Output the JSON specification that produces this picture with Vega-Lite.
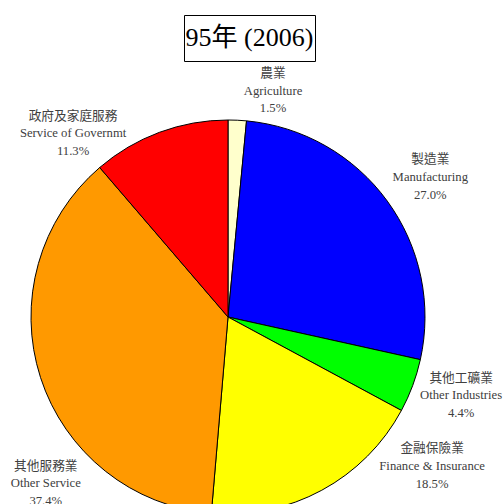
{
  "$schema": "https://vega.github.io/schema/vega-lite/v6.json",
  "padding": {"left": 0, "top": 14, "right": 0, "bottom": 0},
  "autosize": {"type": "pad"},
  "background": "white",
  "spacing": 0,
  "config": {"view": {"stroke": null}, "font": "Liberation Serif, 'Noto Sans CJK TC', serif"},
  "data": {
    "values": [
      {"order": 1, "cat": "Agriculture", "zh": "農業", "en": "Agriculture", "pct": 1.5},
      {"order": 2, "cat": "Manufacturing", "zh": "製造業", "en": "Manufacturing", "pct": 27.0},
      {"order": 3, "cat": "Other Industries", "zh": "其他工礦業", "en": "Other Industries", "pct": 4.4},
      {"order": 4, "cat": "Finance & Insurance", "zh": "金融保險業", "en": "Finance & Insurance", "pct": 18.5},
      {"order": 5, "cat": "Other Service", "zh": "其他服務業", "en": "Other Service", "pct": 37.4},
      {"order": 6, "cat": "Service of Governmt", "zh": "政府及家庭服務", "en": "Service of Governmt", "pct": 11.3}
    ]
  },
  "vconcat": [
    {
      "spacing": 0,
      "hconcat": [
        {
          "width": 183, "height": 46,
          "data": {"values": [{}]},
          "mark": {"type": "point", "opacity": 0},
          "encoding": {}
        },
        {
          "width": 131, "height": 46,
          "view": {"stroke": "black", "strokeWidth": 1},
          "data": {"values": [{}]},
          "mark": {"type": "text", "text": "95年 (2006)", "fontSize": 26, "color": "black", "baseline": "middle", "align": "center"},
          "encoding": {}
        }
      ]
    },
    {
      "width": 456,
      "height": 510,
      "transform": [
        {"stack": "pct", "groupby": [], "sort": [{"field": "order"}], "as": ["s0", "s1"]},
        {"calculate": "(datum.s0 + datum.s1) / 2", "as": "mid"},
        {"calculate": "datum.zh + '\\n' + datum.en + '\\n' + format(datum.pct, '.1f') + '%'", "as": "label"}
      ],
      "layer": [
        {
          "mark": {"type": "arc", "outerRadius": 197, "stroke": "black", "strokeWidth": 1},
          "encoding": {
            "theta": {"field": "s0", "type": "quantitative", "stack": null, "scale": {"domain": [0, 100.1]}},
            "theta2": {"field": "s1"},
            "color": {
              "field": "cat", "type": "nominal", "legend": null,
              "scale": {
                "domain": ["Agriculture", "Manufacturing", "Other Industries", "Finance & Insurance", "Other Service", "Service of Governmt"],
                "range": ["#FFFFCC", "#0000FF", "#00FF00", "#FFFF00", "#FF9900", "#FF0000"]
              }
            }
          }
        },
        {
          "transform": [{"filter": "datum.cat === 'Agriculture'"}],
          "mark": {"type": "text", "radius": 230, "thetaOffset": 0.150, "dy": -18, "fontSize": 12.7, "lineHeight": 17.5, "lineBreak": "\n", "color": "#404040", "align": "center", "baseline": "middle"},
          "encoding": {"theta": {"field": "mid", "type": "quantitative", "stack": null}, "text": {"field": "label"}}
        },
        {
          "transform": [{"filter": "datum.cat === 'Manufacturing'"}],
          "mark": {"type": "text", "radius": 246, "thetaOffset": 0.024, "dy": -18, "fontSize": 12.7, "lineHeight": 18, "lineBreak": "\n", "color": "#404040", "align": "center", "baseline": "middle"},
          "encoding": {"theta": {"field": "mid", "type": "quantitative", "stack": null}, "text": {"field": "label"}}
        },
        {
          "transform": [{"filter": "datum.cat === 'Other Industries'"}],
          "mark": {"type": "text", "radius": 246, "thetaOffset": -0.031, "dy": -18, "fontSize": 12.7, "lineHeight": 17.5, "lineBreak": "\n", "color": "#404040", "align": "center", "baseline": "middle"},
          "encoding": {"theta": {"field": "mid", "type": "quantitative", "stack": null}, "text": {"field": "label"}}
        },
        {
          "transform": [{"filter": "datum.cat === 'Finance & Insurance'"}],
          "mark": {"type": "text", "radius": 253, "thetaOffset": -0.443, "dy": -18, "fontSize": 12.7, "lineHeight": 18, "lineBreak": "\n", "color": "#404040", "align": "center", "baseline": "middle"},
          "encoding": {"theta": {"field": "mid", "type": "quantitative", "stack": null}, "text": {"field": "label"}}
        },
        {
          "transform": [{"filter": "datum.cat === 'Other Service'"}],
          "mark": {"type": "text", "radius": 247, "thetaOffset": -0.429, "dy": -18, "fontSize": 12.7, "lineHeight": 17.5, "lineBreak": "\n", "color": "#404040", "align": "center", "baseline": "middle"},
          "encoding": {"theta": {"field": "mid", "type": "quantitative", "stack": null}, "text": {"field": "label"}}
        },
        {
          "transform": [{"filter": "datum.cat === 'Service of Governmt'"}],
          "mark": {"type": "text", "radius": 240, "thetaOffset": -0.347, "dy": -18, "fontSize": 12.7, "lineHeight": 17.5, "lineBreak": "\n", "color": "#404040", "align": "center", "baseline": "middle"},
          "encoding": {"theta": {"field": "mid", "type": "quantitative", "stack": null}, "text": {"field": "label"}}
        }
      ]
    }
  ]
}
